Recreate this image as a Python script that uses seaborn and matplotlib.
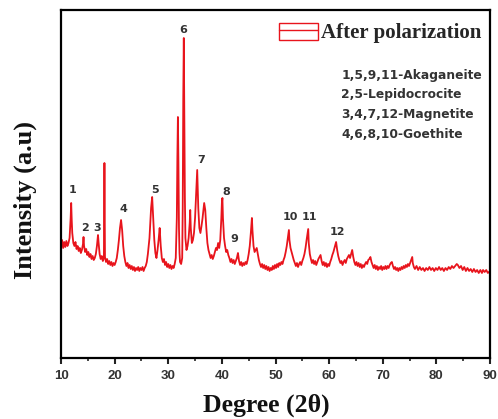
import matplotlib
matplotlib.use("Agg")
import matplotlib.pyplot as plt
import seaborn as sns
import pandas as pd
from matplotlib.patches import Patch
from matplotlib.lines import Line2D
from matplotlib.legend_handler import HandlerTuple
from matplotlib.ticker import MultipleLocator

# ---- data (2-theta in degrees, intensity in arbitrary units) ----
two_theta = [
    10.0, 10.2, 10.4, 10.6, 10.8, 11.0, 11.2, 11.4, 11.6, 11.8, 11.9, 12.0, 12.1, 12.3, 12.5, 12.7, 12.9,
    13.1, 13.3, 13.5, 13.7, 13.9, 14.1, 14.2, 14.3, 14.5, 14.7, 14.9, 15.1, 15.3, 15.5, 15.7, 15.9,
    16.1, 16.3, 16.5, 16.7, 16.9, 17.0, 17.2, 17.4, 17.6, 17.8, 18.0, 18.1, 18.2, 18.4, 18.6, 18.8,
    19.0, 19.2, 19.4, 19.6, 19.8, 20.0, 20.2, 20.4, 20.6, 20.8, 21.0, 21.2, 21.4, 21.6, 21.8, 22.0,
    22.2, 22.4, 22.6, 22.8, 23.0, 23.2, 23.4, 23.6, 23.8, 24.0, 24.2, 24.4, 24.6, 24.8, 25.0, 25.2,
    25.4, 25.6, 25.8, 26.0, 26.2, 26.5, 26.8, 27.0, 27.2, 27.4, 27.6, 27.8, 28.0, 28.2, 28.4, 28.6,
    28.8, 29.0, 29.2, 29.4, 29.6, 29.8, 30.0, 30.2, 30.4, 30.6, 30.8, 31.0, 31.2, 31.4, 31.6, 31.7,
    31.8, 31.9, 32.0, 32.1, 32.2, 32.4, 32.6, 32.7, 32.8, 32.9, 33.0, 33.1, 33.2, 33.4, 33.6, 33.8,
    34.0, 34.1, 34.2, 34.4, 34.6, 34.8, 35.0, 35.2, 35.4, 35.6, 35.8, 36.0, 36.2, 36.4, 36.6, 36.7,
    36.9, 37.1, 37.3, 37.5, 37.7, 37.9, 38.1, 38.3, 38.5, 38.7, 38.9, 39.1, 39.3, 39.5, 39.7, 39.9,
    40.0, 40.1, 40.2, 40.4, 40.6, 40.8, 41.0, 41.2, 41.4, 41.6, 41.8, 42.0, 42.2, 42.4, 42.6, 42.8,
    43.0, 43.2, 43.4, 43.6, 43.8, 44.0, 44.2, 44.4, 44.6, 44.8, 45.0, 45.2, 45.4, 45.6, 45.7, 45.9,
    46.1, 46.3, 46.5, 46.7, 46.9, 47.1, 47.3, 47.5, 47.7, 47.9, 48.1, 48.3, 48.5, 48.7, 48.9, 49.1,
    49.3, 49.5, 49.7, 49.9, 50.1, 50.3, 50.5, 50.7, 50.9, 51.1, 51.3, 51.5, 51.7, 51.9, 52.1, 52.3,
    52.5, 52.6, 52.8, 53.0, 53.2, 53.4, 53.6, 53.8, 54.0, 54.2, 54.4, 54.6, 54.8, 55.0, 55.2, 55.4,
    55.6, 55.8, 56.0, 56.1, 56.2, 56.4, 56.6, 56.8, 57.0, 57.2, 57.4, 57.6, 57.8, 58.0, 58.2, 58.4,
    58.6, 58.8, 59.0, 59.2, 59.4, 59.6, 59.8, 60.0, 60.2, 60.4, 60.6, 60.8, 61.0, 61.2, 61.3, 61.5,
    61.7, 61.9, 62.1, 62.3, 62.5, 62.7, 62.9, 63.1, 63.3, 63.5, 63.7, 63.9, 64.1, 64.3, 64.5, 64.7,
    64.9, 65.1, 65.3, 65.5, 65.7, 65.9, 66.1, 66.3, 66.5, 66.7, 66.9, 67.1, 67.3, 67.5, 67.7, 67.9,
    68.1, 68.3, 68.5, 68.7, 68.9, 69.1, 69.3, 69.5, 69.7, 69.9, 70.1, 70.3, 70.5, 70.7, 70.9, 71.1,
    71.3, 71.5, 71.7, 71.9, 72.1, 72.3, 72.5, 72.7, 72.9, 73.1, 73.3, 73.5, 73.7, 73.9, 74.1, 74.3,
    74.5, 74.7, 74.9, 75.1, 75.3, 75.5, 75.6, 75.8, 76.0, 76.3, 76.6, 76.9, 77.2, 77.5, 77.8, 78.1,
    78.4, 78.7, 79.0, 79.3, 79.6, 79.9, 80.2, 80.5, 80.8, 81.1, 81.4, 81.7, 82.0, 82.3, 82.6, 82.9,
    83.2, 83.5, 83.8, 84.0, 84.3, 84.6, 84.9, 85.2, 85.5, 85.8, 86.1, 86.4, 86.7, 87.0, 87.3, 87.6,
    87.9, 88.2, 88.5, 88.7, 89.0, 89.3, 89.6, 90.0,
]
intensity = [
    112, 118, 110, 116, 111, 117, 112, 115, 120, 140, 155, 138, 125, 115, 112, 116, 109,
    112, 107, 110, 105, 108, 114, 121, 112, 106, 109, 103, 106, 101, 104, 99, 102,
    98, 100, 104, 112, 123, 116, 104, 99, 102, 97, 100, 195, 101, 96, 99, 94,
    97, 93, 96, 92, 95, 93, 96, 100, 108, 118, 130, 138, 128, 112, 102, 96,
    92, 95, 90, 93, 89, 92, 88, 91, 87, 90, 88, 91, 87, 90, 88, 91,
    87, 90, 92, 96, 104, 120, 150, 161, 140, 118, 105, 100, 108, 118, 130, 112,
    100, 96, 99, 93, 96, 91, 94, 90, 93, 89, 92, 90, 94, 100, 140, 200,
    241, 195, 130, 105, 96, 94, 100, 150, 260, 320, 240, 160, 120, 108, 112, 120,
    135, 148, 130, 115, 118, 125, 140, 165, 188, 150, 130, 125, 132, 140, 150, 155,
    148, 130, 115, 108, 104, 100, 103, 99, 102, 106, 110, 108, 115, 110, 118, 140,
    155, 160, 140, 120, 112, 106, 108, 103, 100, 96, 99, 95, 98, 94, 97, 100,
    105, 97, 93, 96, 92, 95, 93, 96, 94, 98, 104, 112, 125, 140, 128, 112,
    106, 108, 110, 104, 98, 94, 91, 94, 90, 93, 89, 92, 88, 91, 87, 90,
    88, 92, 89, 93, 90, 94, 91, 95, 93, 96, 94, 98, 101, 106, 112, 120,
    128, 118, 110, 106, 102, 98, 95, 92, 95, 91, 94, 96, 93, 97, 100, 104,
    110, 118, 125, 129, 115, 104, 99, 95, 98, 94, 97, 93, 96, 99, 101, 103,
    97, 93, 96, 92, 95, 91, 94, 92, 96, 99, 103, 106, 110, 114, 116, 108,
    102, 98, 95, 97, 93, 96, 98, 95, 99, 101, 103, 100, 104, 108, 101, 96,
    93, 96, 92, 95, 91, 94, 90, 93, 91, 94, 96, 94, 98, 99, 101, 96,
    93, 90, 93, 89, 92, 88, 91, 89, 92, 88, 91, 89, 92, 89, 92, 90,
    93, 95, 96, 92, 89, 91, 88, 90, 87, 90, 88, 91, 89, 92, 90, 93,
    91, 94, 92, 95, 98, 101, 95, 91, 89, 92, 88, 91, 88, 90, 87, 90,
    88, 91, 88, 90, 87, 90, 88, 91, 88, 90, 87, 90, 88, 91, 89, 92,
    90, 92, 94, 93, 90, 92, 88, 91, 87, 90, 87, 89, 86, 89, 86, 88,
    85, 88, 85, 88, 86, 88, 85, 87,
]

peak_labels = ["1", "2", "3", "4", "5", "6", "7", "8", "9", "10", "11", "12"]
label_x = [12.2, 14.5, 16.7, 21.7, 27.5, 32.75, 36.1, 40.8, 42.4, 52.7, 56.3, 61.5]
label_y = [168, 130, 130, 149, 168, 328, 198, 166, 119, 141, 141, 126]

phase_notes = ["1,5,9,11-Akaganeite", "2,5-Lepidocrocite", "3,4,7,12-Magnetite", "4,6,8,10-Goethite"]
series_name = "After polarization"
x_ticks = [10, 20, 30, 40, 50, 60, 70, 80, 90]

df = pd.DataFrame({"two_theta": two_theta, "intensity": intensity})

sns.set_style("white")
plt.rcParams["font.family"] = ["Liberation Sans", "DejaVu Sans"]

fig = plt.figure(figsize=(4.98, 4.19), dpi=100)
ax = fig.add_axes([61 / 498, 1 - 358 / 419, 429 / 498, 348 / 419])

red = "#e8141c"
sns.lineplot(data=df, x="two_theta", y="intensity", ax=ax, color=red,
             linewidth=1.3, estimator=None, sort=False)

ax.set_xlim(10, 90)
ax.set_ylim(0, 348)
ax.set_xticks(x_ticks)
ax.xaxis.set_minor_locator(MultipleLocator(5))
ax.set_yticks([])
ax.tick_params(axis="x", which="major", direction="out", length=4, width=1.5,
               labelsize=9.5, colors="#222222", pad=4.5, bottom=True)
ax.tick_params(axis="x", which="minor", direction="out", length=2.5, width=1.2, bottom=True)
for lab in ax.get_xticklabels():
    lab.set_fontweight("bold")
    lab.set_color("#333333")

for s in ax.spines.values():
    s.set_visible(True)
    s.set_color("black")
    s.set_linewidth(1.6)

serif = ["Liberation Serif", "DejaVu Serif"]
ax.set_xlabel("Degree (2θ)", fontsize=18.5, fontweight="bold", family=serif, color="#111111", va="center")
ax.xaxis.set_label_coords(0.479, -0.135)
ax.set_ylabel("Intensity (a.u)", fontsize=19, fontweight="bold", family=serif, color="#111111", va="center")
ax.yaxis.set_label_coords(-0.084, 0.454)

sans_b = ["DejaVu Sans"]
for t, xv, yv in zip(peak_labels, label_x, label_y):
    ax.text(xv, yv, t, fontsize=8, fontweight="bold", family=sans_b, color="#333333", ha="center", va="center")

for i, note in enumerate(phase_notes):
    ax.text(0.653, 0.813 - i * 0.0566, note, transform=ax.transAxes, fontsize=8.8,
            fontweight="bold", family=sans_b, color="#333333", ha="left", va="center")

handle = (Patch(facecolor="none", edgecolor=red, linewidth=1.0), Line2D([], [], color=red, linewidth=1.0))
leg = ax.legend([handle], [series_name], handler_map={tuple: HandlerTuple(ndivide=1)},
                loc="upper right", frameon=False, prop={"family": serif, "weight": "bold", "size": 15},
                handlelength=1.87, handleheight=0.9, handletextpad=0.15, borderaxespad=0.0,
                bbox_to_anchor=(1.0, 0.988))

fig.savefig("out.png", dpi=100)
